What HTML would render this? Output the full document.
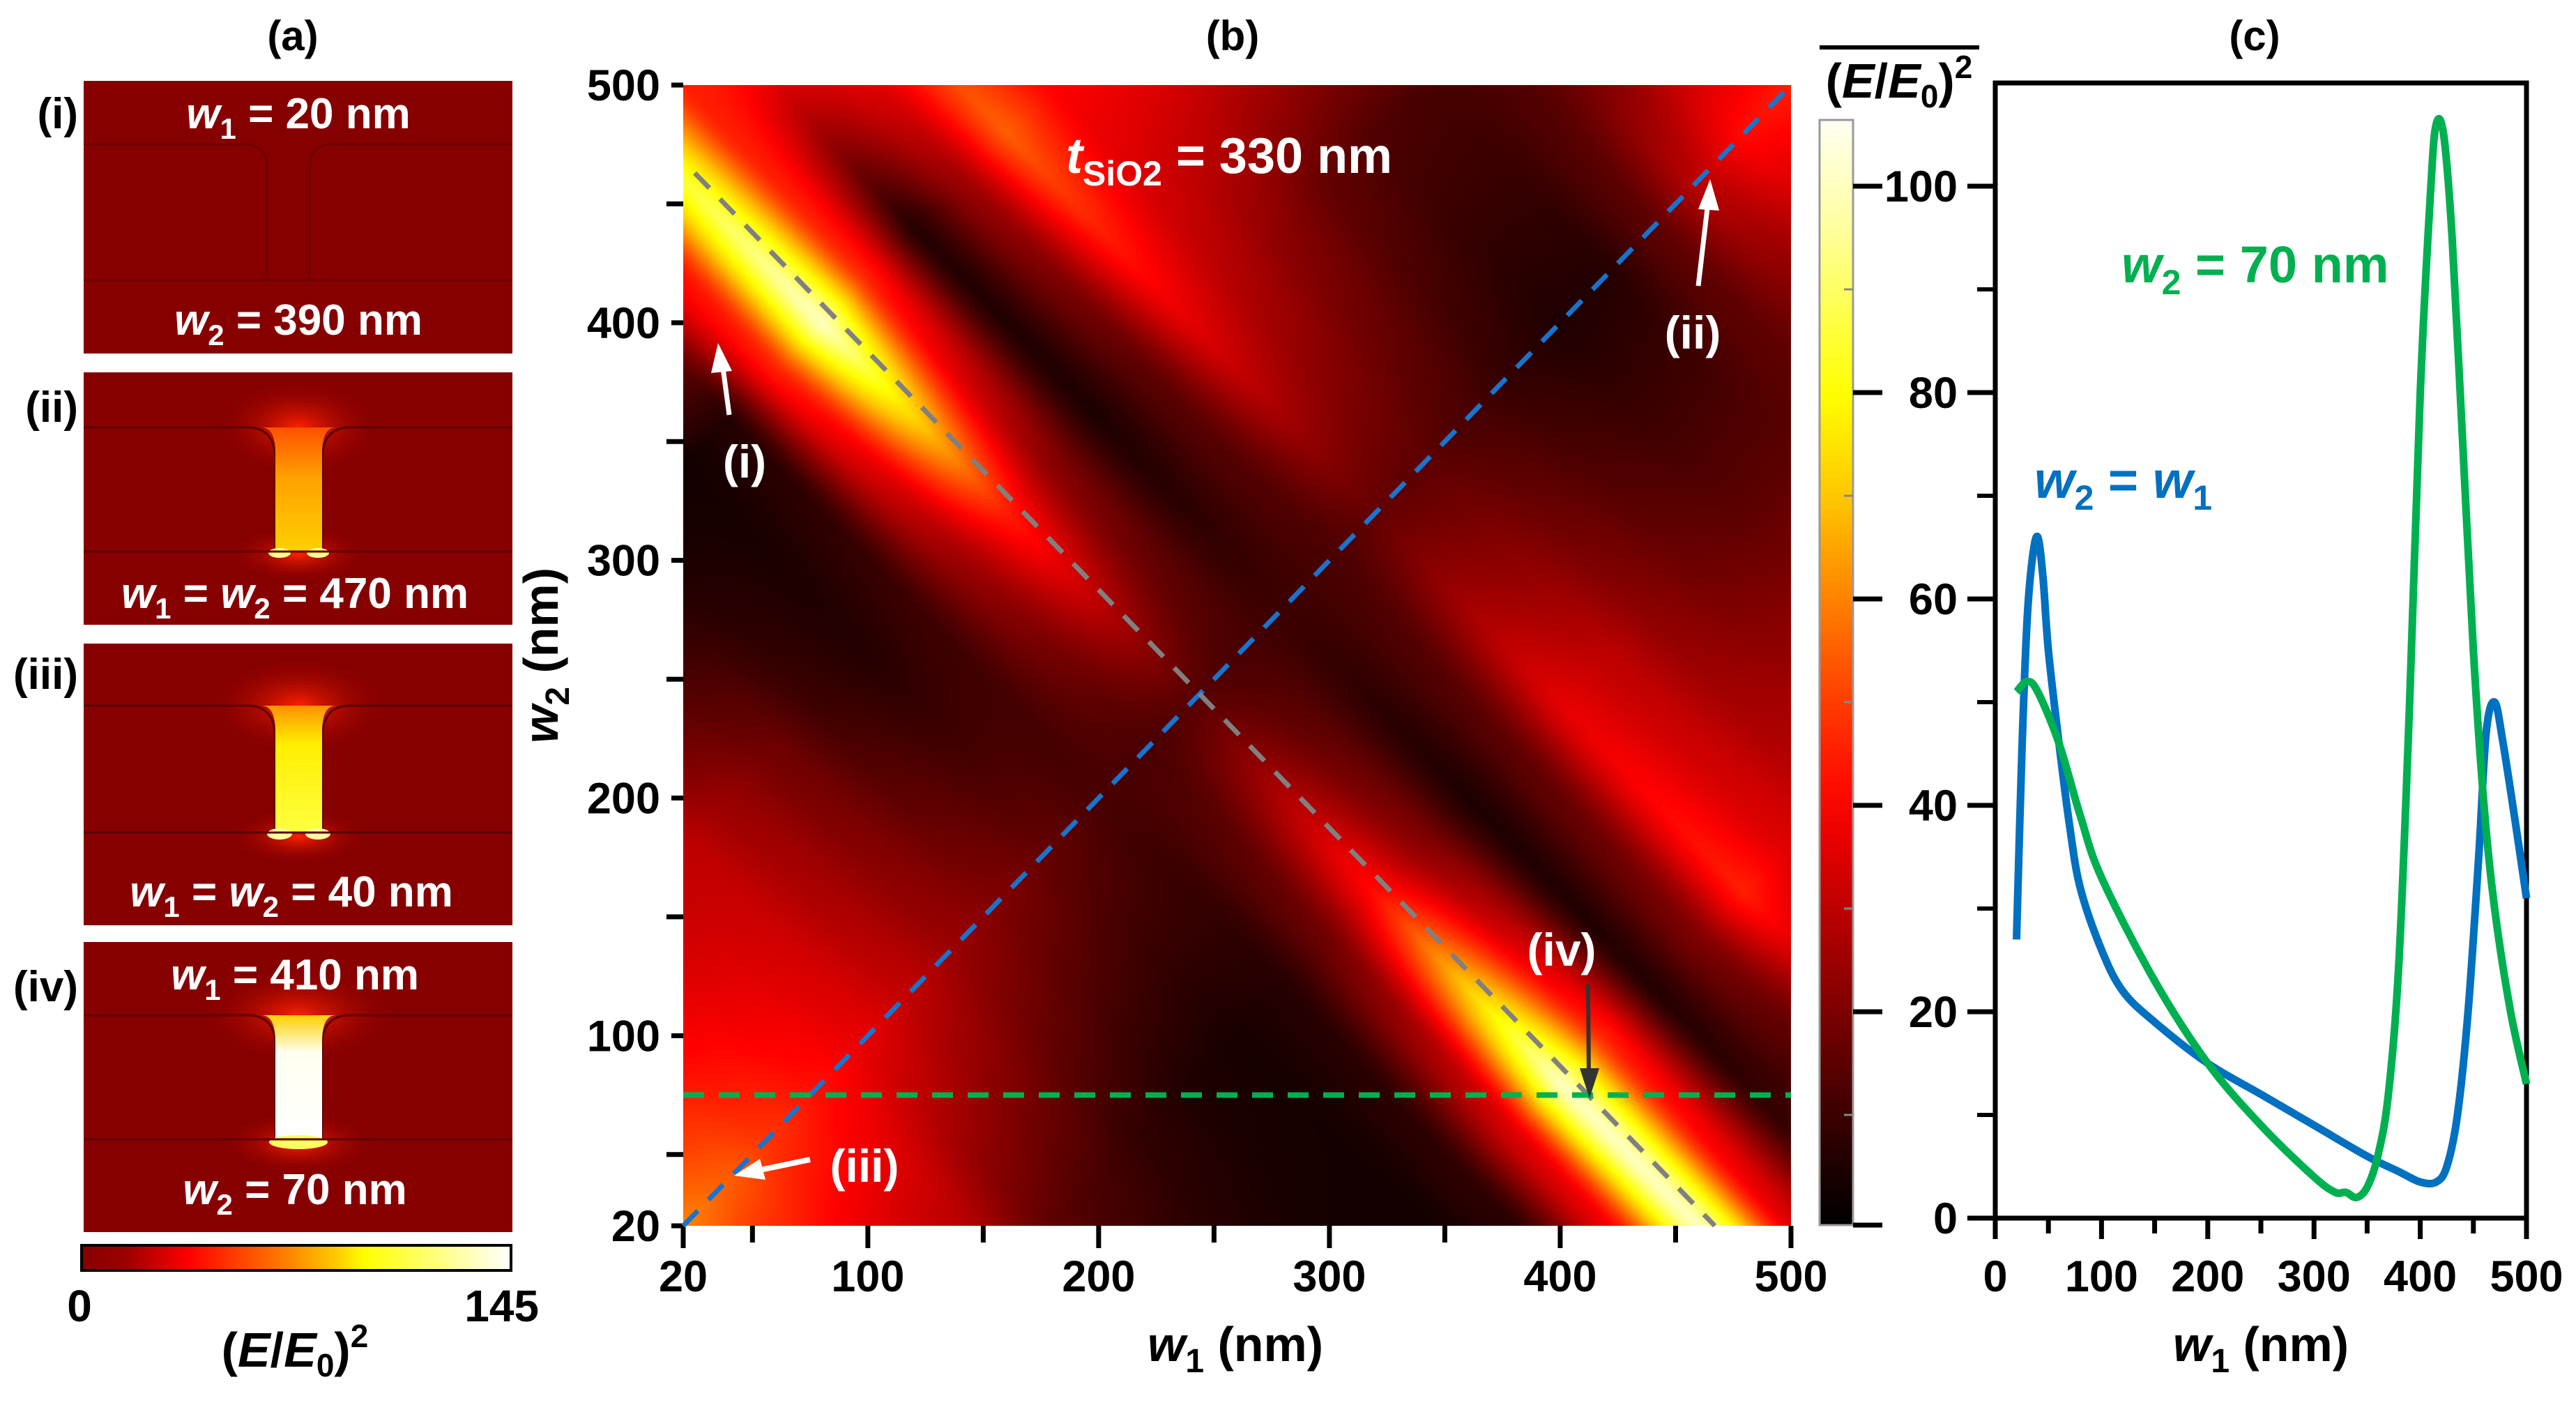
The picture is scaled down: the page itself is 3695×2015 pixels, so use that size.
<!DOCTYPE html>
<html><head><meta charset="utf-8">
<style>
html,body{margin:0;padding:0;background:#fff;}
#root{position:relative;width:3695px;height:2015px;overflow:hidden;background:#fff;font-family:"Liberation Sans",Arial,sans-serif;}
#heat{position:absolute;left:980px;top:122px;width:1589px;height:1636px;}
#svg{position:absolute;left:0;top:0;}
text{font-family:"Liberation Sans",Arial,sans-serif;font-weight:bold;}
</style></head>
<body>
<div id="root">
<canvas id="heat" width="400" height="412"></canvas>
<svg id="svg" width="3695" height="2015" viewBox="0 0 3695 2015">
<defs>
 <linearGradient id="gA" x1="0" x2="1" y1="0" y2="0">
  <stop offset="0" stop-color="#880000"/><stop offset="0.1" stop-color="#9a0000"/><stop offset="0.25" stop-color="#ff0000"/>
  <stop offset="0.45" stop-color="#ff7000"/><stop offset="0.6" stop-color="#ffd000"/><stop offset="0.66" stop-color="#ffff00"/>
  <stop offset="1" stop-color="#ffffff"/></linearGradient>
 <linearGradient id="slit2" x1="0" x2="0" y1="0" y2="1"><stop offset="0" stop-color="#ff5000"/><stop offset="0.4" stop-color="#ffa000"/><stop offset="1" stop-color="#ffd000"/></linearGradient>
 <linearGradient id="slit3" x1="0" x2="0" y1="0" y2="1"><stop offset="0" stop-color="#ff9000"/><stop offset="0.3" stop-color="#ffee00"/><stop offset="1" stop-color="#ffff40"/></linearGradient>
 <linearGradient id="slit4" x1="0" x2="0" y1="0" y2="1"><stop offset="0" stop-color="#ffd000"/><stop offset="0.3" stop-color="#fffff0"/><stop offset="1" stop-color="#ffffff"/></linearGradient>
 <radialGradient id="glowR"><stop offset="0" stop-color="#ff2000" stop-opacity="1"/><stop offset="1" stop-color="#880000" stop-opacity="0"/></radialGradient>
 <linearGradient id="gCB" x1="0" x2="0" y1="1" y2="0"></linearGradient>
</defs>

<!-- Panel (a) -->
<text x="420" y="72" font-size="60" text-anchor="middle">(a)</text>

<g>
 <rect x="120" y="116" width="615" height="391" fill="#870000"/>
 <line x1="120" y1="402" x2="735" y2="402" stroke="#6e0000" stroke-width="3"/>
 <path d="M120,207 L350,207 Q383,207 383,240 L383,402 M444,402 L444,240 Q444,207 477,207 L735,207" fill="none" stroke="#6e0000" stroke-width="3"/>
 <text x="112" y="184" font-size="62" text-anchor="end" fill="#000">(i)</text>
 <text x="428" y="184" font-size="62" text-anchor="middle" fill="#fff"><tspan font-style="italic">w</tspan><tspan dy="15" font-size="42">1</tspan><tspan dy="-15"> = 20 nm</tspan></text>
 <text x="428" y="480" font-size="62" text-anchor="middle" fill="#fff"><tspan font-style="italic">w</tspan><tspan dy="15" font-size="42">2</tspan><tspan dy="-15"> = 390 nm</tspan></text>
</g>

<g>
 <rect x="120" y="534" width="615" height="362" fill="#870000"/>
 <ellipse cx="428" cy="613" rx="120" ry="70" fill="url(#glowR)"/>
 <ellipse cx="428" cy="795" rx="100" ry="40" fill="url(#glowR)"/>
 <path d="M120,613 L355,613 Q395,613 395,660 L395,791 L462,791 L462,660 Q462,613 502,613 L735,613" fill="none" stroke="#5a0000" stroke-width="3"/>
 <path d="M375,613 Q395,613 395,650 L395,791 L462,791 L462,650 Q462,613 482,613 Z" fill="url(#slit2)"/>
 <ellipse cx="401" cy="793" rx="16" ry="7" fill="#ffff90"/><ellipse cx="456" cy="793" rx="16" ry="7" fill="#ffff90"/>
 <line x1="120" y1="791" x2="735" y2="791" stroke="#5a0000" stroke-width="3"/>
 <text x="112" y="605" font-size="62" text-anchor="end">(ii)</text>
 <text x="423" y="872" font-size="62" text-anchor="middle" fill="#fff"><tspan font-style="italic">w</tspan><tspan dy="15" font-size="42">1</tspan><tspan dy="-15"> = </tspan><tspan font-style="italic">w</tspan><tspan dy="15" font-size="42">2</tspan><tspan dy="-15"> = 470 nm</tspan></text>
</g>

<g>
 <rect x="120" y="923" width="615" height="404" fill="#870000"/>
 <ellipse cx="428" cy="1012" rx="130" ry="70" fill="url(#glowR)"/>
 <ellipse cx="428" cy="1200" rx="100" ry="40" fill="url(#glowR)"/>
 <path d="M120,1012 L355,1012 Q395,1012 395,1060 L395,1194 M462,1194 L462,1060 Q462,1012 502,1012 L735,1012" fill="none" stroke="#5a0000" stroke-width="3"/>
 <path d="M375,1012 Q395,1012 395,1050 L395,1194 L462,1194 L462,1050 Q462,1012 482,1012 Z" fill="url(#slit3)"/>
 <ellipse cx="401" cy="1196" rx="18" ry="8" fill="#ffffa0"/><ellipse cx="456" cy="1196" rx="18" ry="8" fill="#ffffa0"/>
 <line x1="120" y1="1194" x2="735" y2="1194" stroke="#5a0000" stroke-width="3"/>
 <text x="112" y="988" font-size="62" text-anchor="end">(iii)</text>
 <text x="418" y="1300" font-size="62" text-anchor="middle" fill="#fff"><tspan font-style="italic">w</tspan><tspan dy="15" font-size="42">1</tspan><tspan dy="-15"> = </tspan><tspan font-style="italic">w</tspan><tspan dy="15" font-size="42">2</tspan><tspan dy="-15"> = 40 nm</tspan></text>
</g>

<g>
 <rect x="120" y="1351" width="615" height="416" fill="#870000"/>
 <ellipse cx="428" cy="1456" rx="140" ry="70" fill="url(#glowR)"/>
 <ellipse cx="428" cy="1640" rx="110" ry="45" fill="url(#glowR)"/>
 <path d="M120,1456 L355,1456 Q395,1456 395,1500 L395,1634 M462,1634 L462,1500 Q462,1456 502,1456 L735,1456" fill="none" stroke="#5a0000" stroke-width="3"/>
 <path d="M375,1456 Q395,1456 395,1495 L395,1634 L462,1634 L462,1495 Q462,1456 482,1456 Z" fill="url(#slit4)"/>
 <ellipse cx="428" cy="1638" rx="42" ry="10" fill="#ffff60"/>
 <line x1="120" y1="1634" x2="735" y2="1634" stroke="#5a0000" stroke-width="3"/>
 <text x="112" y="1436" font-size="62" text-anchor="end">(iv)</text>
 <text x="423" y="1419" font-size="62" text-anchor="middle" fill="#fff"><tspan font-style="italic">w</tspan><tspan dy="15" font-size="42">1</tspan><tspan dy="-15"> = 410 nm</tspan></text>
 <text x="423" y="1727" font-size="62" text-anchor="middle" fill="#fff"><tspan font-style="italic">w</tspan><tspan dy="15" font-size="42">2</tspan><tspan dy="-15"> = 70 nm</tspan></text>
</g>

<g>
 <rect x="117" y="1786" width="616" height="36" fill="url(#gA)" stroke="#000" stroke-width="4"/>
 <text x="114" y="1895" font-size="64" text-anchor="middle">0</text>
 <text x="773" y="1895" font-size="64" text-anchor="end">145</text>
 <text x="423" y="1960" font-size="70" text-anchor="middle">(<tspan font-style="italic">E</tspan>/<tspan font-style="italic">E</tspan><tspan dy="14" font-size="46">0</tspan><tspan dy="-14">)</tspan><tspan dy="-28" font-size="46">2</tspan></text>
</g>

<!-- Panel (b) -->
<text x="1768" y="72" font-size="60" text-anchor="middle">(b)</text>
<g id="bAxes"></g>
<g id="bLines"></g>
<text x="1763" y="248" font-size="72" text-anchor="middle" fill="#fff"><tspan font-style="italic">t</tspan><tspan dy="18" font-size="50">SiO2</tspan><tspan dy="-18"> = 330 nm</tspan></text>
<g>
 <text x="1068" y="685" font-size="66" text-anchor="middle" fill="#fff">(i)</text>
 <line x1="1046" y1="595" x2="1036" y2="520" stroke="#fff" stroke-width="7"/>
 <polygon points="1030,492 1020,535 1050,532" fill="#fff"/>
 <text x="2428" y="500" font-size="66" text-anchor="middle" fill="#fff">(ii)</text>
 <line x1="2436" y1="410" x2="2450" y2="290" stroke="#fff" stroke-width="7"/>
 <polygon points="2453,257 2436,300 2466,302" fill="#fff"/>
 <text x="1240" y="1695" font-size="66" text-anchor="middle" fill="#fff">(iii)</text>
 <line x1="1162" y1="1663" x2="1090" y2="1678" stroke="#fff" stroke-width="8"/>
 <polygon points="1053,1686 1090,1662 1098,1692" fill="#fff"/>
 <text x="2240" y="1385" font-size="66" text-anchor="middle" fill="#fff">(iv)</text>
 <line x1="2278" y1="1412" x2="2279" y2="1540" stroke="#333" stroke-width="6"/>
 <polygon points="2280,1575 2266,1532 2294,1532" fill="#333"/>
</g>
<text x="800" y="940" font-size="70" text-anchor="middle" transform="rotate(-90 800 940)"><tspan font-style="italic">w</tspan><tspan dy="16" font-size="48">2</tspan><tspan dy="-16"> (nm)</tspan></text>
<text x="1772" y="1952" font-size="70" text-anchor="middle"><tspan font-style="italic">w</tspan><tspan dy="16" font-size="48">1</tspan><tspan dy="-16"> (nm)</tspan></text>

<!-- colorbar b -->
<g id="cbar"></g>
<line x1="2610" y1="68" x2="2839" y2="68" stroke="#000" stroke-width="6"/>
<text x="2724" y="140" font-size="70" text-anchor="middle">(<tspan font-style="italic">E</tspan>/<tspan font-style="italic">E</tspan><tspan dy="14" font-size="46">0</tspan><tspan dy="-14">)</tspan><tspan dy="-28" font-size="46">2</tspan></text>

<!-- Panel (c) -->
<text x="3234" y="72" font-size="60" text-anchor="middle">(c)</text>
<g id="cAxes"></g>
<g id="cLines"></g>
<text x="3043" y="405" font-size="74" fill="#00b050"><tspan font-style="italic">w</tspan><tspan dy="17" font-size="50">2</tspan><tspan dy="-17"> = 70 nm</tspan></text>
<text x="2918" y="714" font-size="74" fill="#0070c0"><tspan font-style="italic">w</tspan><tspan dy="17" font-size="50">2</tspan><tspan dy="-17"> = </tspan><tspan font-style="italic">w</tspan><tspan dy="17" font-size="50">1</tspan></text>
<text x="3243" y="1952" font-size="70" text-anchor="middle"><tspan font-style="italic">w</tspan><tspan dy="16" font-size="48">1</tspan><tspan dy="-16"> (nm)</tspan></text>
</svg>
</div>
<script>
// ===== Heatmap data (b), sampled on a rotated grid: s = w1 + w2, d = w1 - w2 =====
const sumLevels = [40,80,120,160,200,240,280,320,360,400,440,480,520,560,600,640,680,720,760,800,840,880,920,960,1000];
const diffLevels = [-480,-320,-160,0,160,320,480];
const heatDm480 = [40,40,40,40,40,40,40,40,40,40,40,80,45,45,45,45,45,45,45,45,45,45,45,45,45];
const heatDm320 = [3,3,3,3,3,3,3,3,3,6,45,100,45,6,25,55,40,40,40,40,40,40,40,40,40];
const heatDm160 = [30,30,30,30,30,24,18,10,6,10,25,45,22,5,15,36,28,22,16,13,12,12,12,12,12];
const heatD0 = [60,55,48,42,36,30,24,20,16,12,12,14,12,10,12,16,15,12,8,5,6,15,30,42,45];
const heatD160 = [25,25,25,25,15,12,8,5,4,6,18,42,22,5,15,36,30,22,17,15,15,15,15,15,15];
const heatD320 = [3,3,3,3,3,3,3,3,3,8,35,100,45,6,20,45,35,30,30,30,30,30,30,30,30];
const heatD480 = [3,3,3,3,3,3,3,3,3,3,40,100,35,10,10,10,10,10,10,10,10,10,10,10,10];
const heatCols = [heatDm480,heatDm320,heatDm160,heatD0,heatD160,heatD320,heatD480];
const cmapVals = [0,10,20,30,40,50,60,70,80,95,108];
const cmapCols = [[0,0,0],[60,0,0],[125,0,0],[190,0,0],[255,0,0],[255,60,0],[255,130,0],[255,200,0],[255,255,0],[255,255,150],[255,255,255]];
const axisTicksMajor = [100,200,300,400,500];
const axisTicksMinor = [50,150,250,350,450];
const guideGreenW2 = [75];
// ===== Line chart data (c) =====
const blueX = [20,25,30,35,40,45,50,60,70,80,100,120,150,200,250,300,350,380,400,415,425,435,445,455,462,470,478,490,500];
const blueY = [27,45,58,64,66,62,55,46,38,32,26,22,19,15,12,9,6,4.5,3.5,3.5,5,10,20,35,47,50,46,38,31];
const greenX = [20,30,40,60,80,100,150,200,250,300,320,330,340,350,360,370,380,390,400,410,415,422,430,440,450,460,470,485,500];
const greenY = [51,52,51,46,39,33,23,15,9,4,2.5,2.5,2,3,6,12,25,50,80,100,106,105,95,75,55,40,30,20,13];
const cTicksX = [0,100,200,300,400,500];
const cTicksXMinor = [50,150,250,350,450];
const cTicksY = [0,20,40,60,80,100];
const cTicksYMinor = [10,30,50,70,90];

const NS = "http://www.w3.org/2000/svg";
function mk(tag, attrs, parent){const e=document.createElementNS(NS,tag);for(const k in attrs)e.setAttribute(k,attrs[k]);parent.appendChild(e);return e;}
const bx = w => 980 + (w-20)/480*1589;
const by = w => 1758 - (w-20)/480*1636;
const cx = w => 2862 + w/500*762;
const cy = v => 1747 - v*14.8;

function cmap(v){
  if(v<=cmapVals[0]) return cmapCols[0];
  for(let i=1;i<cmapVals.length;i++){
    if(v<=cmapVals[i]){const t=(v-cmapVals[i-1])/(cmapVals[i]-cmapVals[i-1]);const a=cmapCols[i-1],b=cmapCols[i];return [a[0]+(b[0]-a[0])*t,a[1]+(b[1]-a[1])*t,a[2]+(b[2]-a[2])*t];}
  }
  return cmapCols[cmapCols.length-1];
}
function lerpIdx(levels,v){
  const step=levels[1]-levels[0];
  let f=(v-levels[0])/step; f=Math.max(0,Math.min(levels.length-1.0001,f));
  const i=Math.floor(f); return [i,f-i];
}
function sampleHeat(w1,w2){
  const s=w1+w2, d=w1-w2;
  const [i,ts]=lerpIdx(sumLevels,s);
  const [j,td]=lerpIdx(diffLevels,d);
  const us=ts*ts*(3-2*ts)*0.5+ts*0.5;
  const a=heatCols[j][i],b=heatCols[j][i+1],c=heatCols[j+1][i],e=heatCols[j+1][i+1];
  return (a*(1-us)+b*us)*(1-td)+(c*(1-us)+e*us)*td;
}
(function drawHeat(){
  const cv=document.getElementById('heat');const ctx=cv.getContext('2d');
  const W=cv.width,H=cv.height;const img=ctx.createImageData(W,H);
  for(let y=0;y<H;y++){for(let x=0;x<W;x++){
    const w1=20+(x+0.5)/W*480, w2=500-(y+0.5)/H*480;
    const col=cmap(sampleHeat(w1,w2));const p=(y*W+x)*4;
    img.data[p]=col[0];img.data[p+1]=col[1];img.data[p+2]=col[2];img.data[p+3]=255;}}
  ctx.putImageData(img,0,0);
})();

const bA=document.getElementById('bAxes');
const tick=(g,x1,y1,x2,y2,w)=>{const l=mk('line',{x1,y1,x2,y2,stroke:'#000','stroke-width':w},g);return l;};
[20].concat(axisTicksMajor).forEach(v=>{
  tick(bA,bx(v),1758,bx(v),1790,7);
  const t=mk('text',{x:bx(v),y:1852,'font-size':63,'text-anchor':'middle'},bA);t.textContent=v;
  
  
  tick(bA,963,by(v),980,by(v),7);
  const u=mk('text',{x:947,y:by(v)+22,'font-size':63,'text-anchor':'end'},bA);u.textContent=v;
  
  
});
axisTicksMinor.forEach(v=>{tick(bA,bx(v),1758,bx(v),1782,7);tick(bA,956,by(v),980,by(v),7);});

const bL=document.getElementById('bLines');
let g1=mk('line',{x1:bx(20),y1:by(20),x2:bx(500),y2:by(500),stroke:'#1874cd','stroke-width':7,'stroke-dasharray':'30 22'},bL);


let g2=mk('line',{x1:bx(25),y1:by(463),x2:bx(467),y2:by(20),stroke:'#808080','stroke-width':7,'stroke-dasharray':'30 22'},bL);


guideGreenW2.forEach(v=>{
  const g3=mk('line',{x1:bx(20),y1:by(v),x2:bx(500),y2:by(v),stroke:'#00b050','stroke-width':8,'stroke-dasharray':'30 21'},bL);
  
  
});

const gr=document.getElementById('gCB');
const vTop=(1747-172)/14.8, vBot=(1747-1757)/14.8;
for(let i=0;i<=20;i++){const v=vBot+(vTop-vBot)*i/20;const c=cmap(v);
  mk('stop',{offset:i/20,'stop-color':`rgb(${c.map(Math.round).join(',')})`},gr);}
const cb=document.getElementById('cbar');
const cbr=mk('rect',{x:2610,y:172,width:48,height:1585,fill:'url(#gCB)',stroke:'#999','stroke-width':3},cb);


cTicksY.filter(v=>v>0).forEach(v=>{tick(cb,2658,cy(v),2700,cy(v),7);
  const t=mk('text',{x:2808,y:cy(v)+22,'font-size':63,'text-anchor':'end'},cb);t.textContent=v;
  
  });
tick(cb,2658,1757,2700,1757,7);
cTicksYMinor.forEach(v=>{const l=mk('line',{x1:2645,y1:cy(v),x2:2658,y2:cy(v),stroke:'#888','stroke-width':3},cb);});

const cA=document.getElementById('cAxes');
const frame=mk('path',{d:`M${cx(0)},${cy(110)} L${cx(500)},${cy(110)} L${cx(500)},${cy(0)} L${cx(0)},${cy(0)} Z`,fill:'none',stroke:'#000','stroke-width':7},cA);


cTicksX.forEach(v=>{tick(cA,cx(v),cy(0),cx(v),cy(0)+30,7);
  const t=mk('text',{x:cx(v),y:1852,'font-size':63,'text-anchor':'middle'},cA);t.textContent=v;
  
  });
cTicksXMinor.forEach(v=>tick(cA,cx(v),cy(0),cx(v),cy(0)+22,7));
cTicksY.forEach(v=>{tick(cA,2822,cy(v),cx(0),cy(v),7);
  if(v===0){const t=mk('text',{x:2808,y:cy(0)+22,'font-size':63,'text-anchor':'end'},cA);t.textContent=v;
  
  }});
cTicksYMinor.forEach(v=>tick(cA,2836,cy(v),cx(0),cy(v),6));

const cL=document.getElementById('cLines');
function smoothPath(xs,ys){
  const P=xs.map((x,i)=>[cx(x),cy(ys[i])]);let d=`M${P[0][0]},${P[0][1]}`;
  for(let i=0;i<P.length-1;i++){const p0=P[Math.max(0,i-1)],p1=P[i],p2=P[i+1],p3=P[Math.min(P.length-1,i+2)];
    const c1=[p1[0]+(p2[0]-p0[0])/6,p1[1]+(p2[1]-p0[1])/6],c2=[p2[0]-(p3[0]-p1[0])/6,p2[1]-(p3[1]-p1[1])/6];
    d+=` C${c1[0]},${c1[1]} ${c2[0]},${c2[1]} ${p2[0]},${p2[1]}`;}
  return d;}
const lb=mk('path',{d:smoothPath(blueX,blueY),fill:'none',stroke:'#0070c0','stroke-width':11,'stroke-linejoin':'round'},cL);


const lg=mk('path',{d:smoothPath(greenX,greenY),fill:'none',stroke:'#00b050','stroke-width':11,'stroke-linejoin':'round'},cL);


</script>
</body></html>
